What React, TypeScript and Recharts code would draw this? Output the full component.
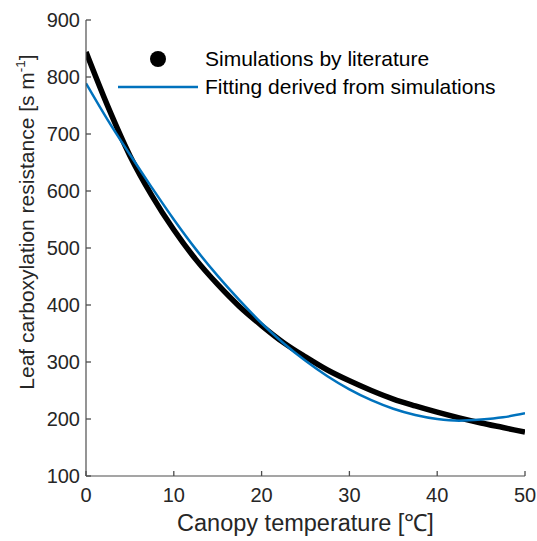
import { Label, Legend, Line, LineChart, XAxis, YAxis } from "recharts";

// canopy temperature (°C), read every 2.5 degrees
const temperature = [0, 2.5, 5, 7.5, 10, 12.5, 15, 17.5, 20, 22.5, 25, 27.5, 30, 32.5, 35, 37.5, 40, 42.5, 45, 47.5, 50];

// leaf carboxylation resistance (s m-1)
const simulated = [844, 748, 662, 592, 532, 480, 436, 397, 364, 334, 309, 286, 267, 250, 235, 223, 212, 202, 193, 185, 177];
const fitted = [789, 724, 664, 606, 550, 498, 451, 408, 368, 333, 302, 275, 252, 233, 218, 207, 200, 197, 199, 203, 210];

const xTicks = [0, 10, 20, 30, 40, 50];
const yTicks = [100, 200, 300, 400, 500, 600, 700, 800, 900];

const seriesNames = ["Simulations by literature", "Fitting derived from simulations"];

const data = temperature.map((t, i) => ({
    t,
    simulated: simulated[i],
    fitted: fitted[i],
}));

const AXIS = "#4d4d4d";
const TEXT = "#262626";
const BLUE = "#0072BD";
const TICK_LEN = 5;

// matlab style: tick marks point into the plot box, labels stay outside
function BottomTick(props: any) {
    const { x, y, payload } = props;
    return (
        <g>
            <line x1={x} y1={y} x2={x} y2={y - TICK_LEN} stroke={AXIS} strokeWidth={1.3} />
            <text x={x} y={y + 12} dy="0.71em" textAnchor="middle" fontSize={20} fill={TEXT}>
                {payload.value}
            </text>
        </g>
    );
}

function TopTick(props: any) {
    const { x, y } = props;
    return <line x1={x} y1={y} x2={x} y2={y + TICK_LEN} stroke={AXIS} strokeWidth={1.3} />;
}

function LeftTick(props: any) {
    const { x, y, payload } = props;
    return (
        <g>
            <line x1={x} y1={y} x2={x + TICK_LEN} y2={y} stroke={AXIS} strokeWidth={1.3} />
            <text x={x - 6} y={y} dy="0.355em" textAnchor="end" fontSize={20} fill={TEXT}>
                {payload.value}
            </text>
        </g>
    );
}

function RightTick(props: any) {
    const { x, y } = props;
    return <line x1={x} y1={y} x2={x - TICK_LEN} y2={y} stroke={AXIS} strokeWidth={1.3} />;
}

function YLabel(props: any) {
    const vb = props.viewBox || { x: 0 };
    const cx = vb.x + 34;
    const cy = 222;
    return (
        <text
            x={cx}
            y={cy}
            transform={`rotate(-90, ${cx}, ${cy})`}
            textAnchor="middle"
            fontSize={21}
            fill={TEXT}
        >
            Leaf carboxylation resistance [s m
            <tspan dy={-9} fontSize={13.5}>
                -1
            </tspan>
            <tspan dy={9}>]</tspan>
        </text>
    );
}

function LegendBox() {
    return (
        <div style={{ fontSize: 21, color: "#000", lineHeight: "28px", whiteSpace: "nowrap" }}>
            <div style={{ display: "flex", alignItems: "center" }}>
                <svg width={205} height={28}>
                    <circle cx={158} cy={14} r={8} fill="#000" />
                </svg>
                <span>{seriesNames[0]}</span>
            </div>
            <div style={{ display: "flex", alignItems: "center" }}>
                <svg width={205} height={28}>
                    <line x1={118} y1={14} x2={198} y2={14} stroke={BLUE} strokeWidth={2.5} />
                </svg>
                <span>{seriesNames[1]}</span>
            </div>
        </div>
    );
}

export default function App() {
    return (
        <div
            style={{
                position: "absolute",
                left: 0,
                top: 0,
                background: "#fff",
                fontFamily: "'Liberation Sans', Arial, sans-serif",
            }}
        >
            <LineChart
                width={537}
                height={541}
                data={data}
                margin={{ top: 20, right: 12, bottom: 0, left: 0 }}
            >
                <XAxis
                    dataKey="t"
                    type="number"
                    domain={[0, 50]}
                    ticks={xTicks}
                    allowDataOverflow
                    height={65}
                    tickSize={0}
                    tickMargin={0}
                    tickLine={false}
                    stroke={AXIS}
                    strokeWidth={1.2}
                    tick={<BottomTick />}
                >
                    <Label
                        value="Canopy temperature [℃]"
                        position="insideBottom"
                        offset={10}
                        fontSize={23.5}
                        fill={TEXT}
                    />
                </XAxis>
                <XAxis
                    xAxisId="top"
                    orientation="top"
                    dataKey="t"
                    type="number"
                    domain={[0, 50]}
                    ticks={xTicks}
                    allowDataOverflow
                    height={0}
                    tickSize={0}
                    tickMargin={0}
                    tickLine={false}
                    tick={<TopTick />}
                    stroke={AXIS}
                    strokeWidth={1.2}
                />
                <YAxis
                    type="number"
                    domain={[100, 900]}
                    ticks={yTicks}
                    allowDataOverflow
                    width={86}
                    tickSize={0}
                    tickMargin={0}
                    tickLine={false}
                    stroke={AXIS}
                    strokeWidth={1.2}
                    tick={<LeftTick />}
                    label={<YLabel />}
                />
                <YAxis
                    yAxisId="right"
                    orientation="right"
                    type="number"
                    domain={[100, 900]}
                    ticks={yTicks}
                    allowDataOverflow
                    width={0}
                    tickSize={0}
                    tickMargin={0}
                    tickLine={false}
                    tick={<RightTick />}
                    stroke={AXIS}
                    strokeWidth={1.2}
                />
                <Legend
                    layout="vertical"
                    align="center"
                    verticalAlign="middle"
                    content={<LegendBox />}
                    wrapperStyle={{ left: 0, top: 45, width: 537 }}
                />
                <Line
                    type="monotone"
                    dataKey="simulated"
                    name={seriesNames[0]}
                    stroke="#000"
                    strokeWidth={5.5}
                    dot={false}
                    isAnimationActive={false}
                />
                <Line
                    type="monotone"
                    dataKey="fitted"
                    name={seriesNames[1]}
                    stroke={BLUE}
                    strokeWidth={2.5}
                    dot={false}
                    isAnimationActive={false}
                />
            </LineChart>
        </div>
    );
}
